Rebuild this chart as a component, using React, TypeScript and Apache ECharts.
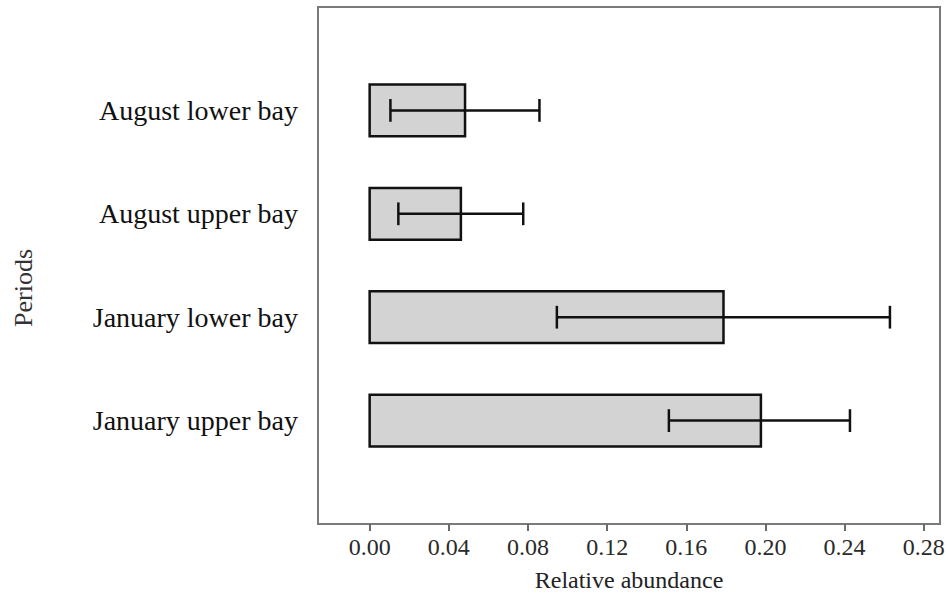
import React, { useEffect, useRef } from "react";
import * as echarts from "echarts";

// Categories, bottom to top (index 0 is the bottom bar)
const categories = [
  "January upper bay",
  "January lower bay",
  "August upper bay",
  "August lower bay",
];
// Mean relative abundance (bar length)
const means = [0.1977, 0.1788, 0.0461, 0.0482];
// Error bar lower and upper ends
const errLow = [0.1512, 0.0946, 0.0145, 0.0105];
const errHigh = [0.2427, 0.2629, 0.0776, 0.0858];
// X tick labels
const xTicks = [0, 0.04, 0.08, 0.12, 0.16, 0.2, 0.24, 0.28];

const FONT = "'Liberation Serif', 'Times New Roman', serif";

export default function App() {
  const ref = useRef<HTMLDivElement>(null);

  useEffect(() => {
    if (!ref.current) return;
    const chart = echarts.init(ref.current, undefined, { renderer: "svg" });

    const data = categories.map((_, i) => [i, means[i], errLow[i], errHigh[i]]);

    const option: any = {
      animation: false,
      backgroundColor: "#ffffff",
      grid: {
        left: 318,
        right: 8,
        top: 7,
        bottom: 73,
        show: true,
        borderColor: "#7a7a7a",
        borderWidth: 2,
        backgroundColor: "transparent",
      },
      xAxis: {
        type: "value",
        min: -0.0261,
        max: 0.2882,
        axisLine: { show: false, onZero: false },
        splitLine: { show: false },
        axisTick: {
          show: true,
          inside: false,
          length: 7,
          customValues: xTicks,
          lineStyle: { color: "#6a6a6a", width: 2 },
        },
        axisLabel: {
          show: true,
          customValues: xTicks,
          margin: 11,
          formatter: (v: number) => v.toFixed(2),
          fontFamily: FONT,
          fontSize: 24,
          color: "#2a2a2a",
        },
        name: "Relative abundance",
        nameLocation: "middle",
        nameGap: 44,
        nameTextStyle: { fontFamily: FONT, fontSize: 24, color: "#222" },
      },
      yAxis: {
        type: "value",
        min: -1,
        max: 4,
        axisLine: { show: false, onZero: false },
        splitLine: { show: false },
        axisTick: { show: false },
        axisLabel: {
          show: true,
          customValues: [0, 1, 2, 3],
          margin: 20,
          formatter: (v: number) => categories[Math.round(v)] ?? "",
          fontFamily: FONT,
          fontSize: 28,
          color: "#111",
        },
      },
      graphic: [
        {
          type: "text",
          x: 23,
          y: 288,
          rotation: Math.PI / 2,
          style: {
            text: "Periods",
            fontFamily: FONT,
            fontSize: 26,
            fill: "#333",
            align: "center",
            verticalAlign: "middle",
          },
        },
      ],
      series: [
        {
          type: "custom",
          data,
          encode: { x: [1, 2, 3], y: 0 },
          renderItem: (params: any, api: any) => {
            const idx = api.value(0);
            const val = api.value(1);
            const lo = api.value(2);
            const hi = api.value(3);
            const halfBar = 0.25;
            const halfCap = 0.11;
            const p0 = api.coord([0, idx + halfBar]);
            const p1 = api.coord([val, idx - halfBar]);
            const pl = api.coord([lo, idx]);
            const ph = api.coord([hi, idx]);
            const capTop = api.coord([lo, idx + halfCap])[1];
            const capBot = api.coord([lo, idx - halfCap])[1];
            return {
              type: "group",
              children: [
                {
                  type: "rect",
                  shape: {
                    x: p0[0],
                    y: p0[1],
                    width: p1[0] - p0[0],
                    height: p1[1] - p0[1],
                  },
                  style: { fill: "#d3d3d3", stroke: "#111", lineWidth: 2.5 },
                },
                {
                  type: "line",
                  shape: { x1: pl[0], y1: pl[1], x2: ph[0], y2: ph[1] },
                  style: { stroke: "#111", lineWidth: 2.5 },
                },
                {
                  type: "line",
                  shape: { x1: pl[0], y1: capTop, x2: pl[0], y2: capBot },
                  style: { stroke: "#111", lineWidth: 2.5 },
                },
                {
                  type: "line",
                  shape: { x1: ph[0], y1: capTop, x2: ph[0], y2: capBot },
                  style: { stroke: "#111", lineWidth: 2.5 },
                },
              ],
            };
          },
        },
      ],
    };

    chart.setOption(option);
    return () => chart.dispose();
  }, []);

  return (
    <div
      ref={ref}
      style={{ position: "absolute", left: 0, top: 0, width: 948, height: 597 }}
    />
  );
}
